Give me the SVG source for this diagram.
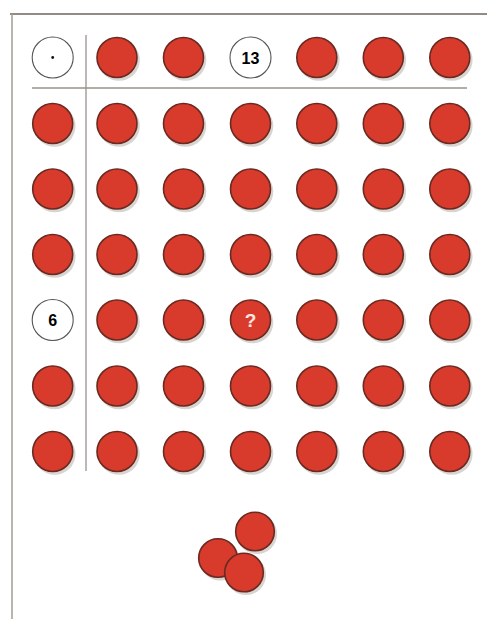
<svg xmlns="http://www.w3.org/2000/svg" width="487" height="619" viewBox="0 0 487 619">
<defs>
<style>
.c{fill:#d83a2c;stroke:#6a2a22;stroke-width:1.6}
.s{fill:#b8b2ac;opacity:0.55}
.w{fill:#fff;stroke:#555;stroke-width:1.1}
.t{font-family:"Liberation Sans",Arial,sans-serif;font-weight:bold;font-size:16px;text-anchor:middle}
.ln{stroke:#9a928a;stroke-width:1.3;fill:none}
</style>
<g id="chip">
<circle class="s" cx="2" cy="2.5" r="20.8"/>
<circle class="c" cx="0" cy="0" r="20"/>
</g>
<g id="chipb">
<circle class="s" cx="2" cy="2.5" r="20"/>
<circle class="c" cx="0" cy="0" r="19.3"/>
</g>
</defs>
<rect width="487" height="619" fill="#fff"/>
<g id="frame">
<line x1="10" y1="14" x2="487" y2="14" stroke="#6e655d" stroke-width="1.6"/>
<line x1="12" y1="14" x2="12" y2="619" stroke="#aaa29a" stroke-width="1.6"/>
</g>
<g id="connectors">
<line class="ln" x1="86" y1="35" x2="86" y2="471"/>
<line class="ln" x1="32" y1="88" x2="467" y2="88"/>
</g>
<g id="row1">
<circle class="w" cx="52.7" cy="57.5" r="20.5"/>
<circle cx="52.7" cy="57.5" r="1.4" fill="#111"/>
<use href="#chip" x="117" y="57.5"/>
<use href="#chip" x="183.5" y="57.5"/>
<circle class="w" cx="250.5" cy="57.5" r="20.5"/>
<text class="t" x="250.5" y="63.5">13</text>
<use href="#chip" x="316.8" y="57.5"/>
<use href="#chip" x="383.3" y="57.5"/>
<use href="#chip" x="449.8" y="57.5"/>
</g>
<g id="row2">
<use href="#chip" x="52.7" y="123.5"/><use href="#chip" x="117" y="123.5"/><use href="#chip" x="183.5" y="123.5"/><use href="#chip" x="250.5" y="123.5"/><use href="#chip" x="316.8" y="123.5"/><use href="#chip" x="383.3" y="123.5"/><use href="#chip" x="449.8" y="123.5"/>
</g>
<g id="row3">
<use href="#chip" x="52.7" y="189"/><use href="#chip" x="117" y="189"/><use href="#chip" x="183.5" y="189"/><use href="#chip" x="250.5" y="189"/><use href="#chip" x="316.8" y="189"/><use href="#chip" x="383.3" y="189"/><use href="#chip" x="449.8" y="189"/>
</g>
<g id="row4">
<use href="#chip" x="52.7" y="254.5"/><use href="#chip" x="117" y="254.5"/><use href="#chip" x="183.5" y="254.5"/><use href="#chip" x="250.5" y="254.5"/><use href="#chip" x="316.8" y="254.5"/><use href="#chip" x="383.3" y="254.5"/><use href="#chip" x="449.8" y="254.5"/>
</g>
<g id="row5">
<circle class="w" cx="52.7" cy="320" r="20.5"/>
<text class="t" x="52.7" y="326">6</text>
<use href="#chip" x="117" y="320"/><use href="#chip" x="183.5" y="320"/>
<use href="#chip" x="250.5" y="320"/>
<text class="t" x="250.5" y="327" fill="#fde8e0" style="font-size:19px">?</text>
<use href="#chip" x="316.8" y="320"/><use href="#chip" x="383.3" y="320"/><use href="#chip" x="449.8" y="320"/>
</g>
<g id="row6">
<use href="#chip" x="52.7" y="386"/><use href="#chip" x="117" y="386"/><use href="#chip" x="183.5" y="386"/><use href="#chip" x="250.5" y="386"/><use href="#chip" x="316.8" y="386"/><use href="#chip" x="383.3" y="386"/><use href="#chip" x="449.8" y="386"/>
</g>
<g id="row7">
<use href="#chip" x="52.7" y="451.5"/><use href="#chip" x="117" y="451.5"/><use href="#chip" x="183.5" y="451.5"/><use href="#chip" x="250.5" y="451.5"/><use href="#chip" x="316.8" y="451.5"/><use href="#chip" x="383.3" y="451.5"/><use href="#chip" x="449.8" y="451.5"/>
</g>
<g id="pile">
<use href="#chipb" x="255" y="531.5"/>
<use href="#chipb" x="218" y="558"/>
<use href="#chipb" x="244" y="572.5"/>
</g>
</svg>
